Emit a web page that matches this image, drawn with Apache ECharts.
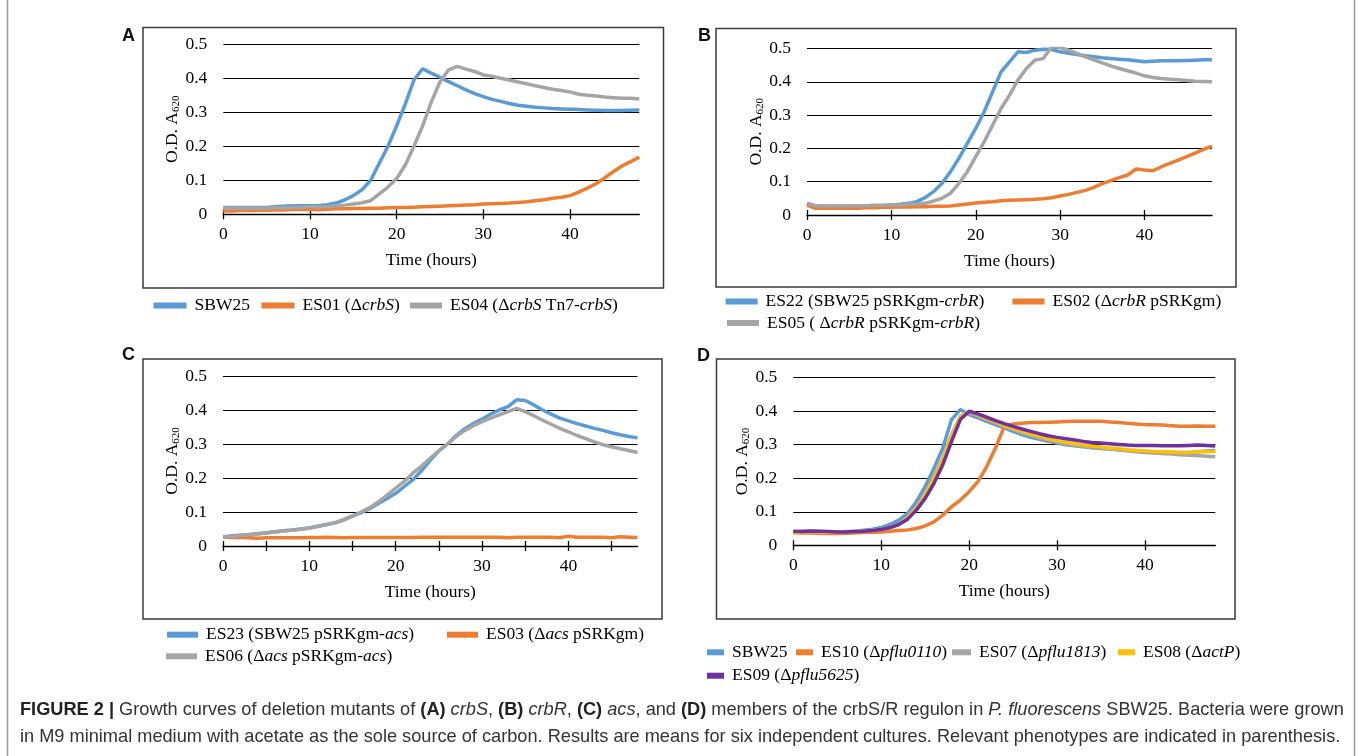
<!DOCTYPE html>
<html>
<head>
<meta charset="utf-8">
<script src="https://cdn.jsdelivr.net/npm/echarts@6/dist/echarts.min.js"></script>
<style>
html,body{margin:0;padding:0;background:#fff;}
#c{width:1358px;height:756px;}
</style>
</head>
<body>
<div id="c"></div>
<script>
// ---------- DATA ----------
const hours = [0,1,2,3,4,5,6,7,8,9,10,11,12,13,14,15,16,17,18,19,20,21,22,23,24,25,26,27,28,29,30,31,32,33,34,35,36,37,38,39,40,41,42,43,44,45,46,47,48];
const xTickLabels = [0,10,20,30,40];
const yTicks = [0,0.1,0.2,0.3,0.4,0.5];

// Panel A
const A_SBW25 = [0.02,0.02,0.02,0.02,0.02,0.02,0.022,0.024,0.025,0.025,0.025,0.026,0.028,0.033,0.042,0.055,0.072,0.1,0.15,0.2,0.26,0.325,0.395,0.428,0.415,0.403,0.39,0.378,0.366,0.355,0.346,0.338,0.332,0.326,0.321,0.318,0.315,0.313,0.311,0.31,0.309,0.308,0.307,0.306,0.305,0.305,0.305,0.306,0.307];
const A_ES01 = [0.01,0.01,0.011,0.011,0.012,0.012,0.013,0.013,0.014,0.014,0.015,0.013,0.015,0.016,0.016,0.017,0.017,0.018,0.018,0.019,0.02,0.02,0.021,0.022,0.023,0.024,0.025,0.026,0.027,0.028,0.03,0.031,0.032,0.033,0.035,0.037,0.04,0.043,0.047,0.05,0.055,0.065,0.077,0.09,0.107,0.125,0.142,0.155,0.168];
const A_ES04 = [0.018,0.018,0.018,0.018,0.018,0.018,0.019,0.019,0.02,0.021,0.022,0.022,0.023,0.025,0.027,0.03,0.034,0.04,0.06,0.08,0.105,0.145,0.2,0.26,0.33,0.39,0.425,0.435,0.427,0.42,0.41,0.406,0.4,0.395,0.389,0.384,0.378,0.373,0.368,0.364,0.36,0.353,0.35,0.348,0.345,0.343,0.341,0.341,0.339];

// Panel B
const B_ES22 = [0.035,0.027,0.026,0.026,0.026,0.026,0.027,0.027,0.028,0.028,0.03,0.032,0.035,0.04,0.052,0.07,0.095,0.13,0.17,0.215,0.26,0.31,0.37,0.43,0.46,0.49,0.488,0.495,0.498,0.497,0.49,0.486,0.482,0.478,0.475,0.472,0.47,0.468,0.466,0.463,0.46,0.462,0.463,0.463,0.463,0.464,0.465,0.466,0.466];
const B_ES02 = [0.03,0.02,0.02,0.02,0.02,0.02,0.02,0.022,0.022,0.023,0.023,0.024,0.024,0.025,0.025,0.026,0.026,0.027,0.03,0.033,0.036,0.038,0.04,0.043,0.044,0.045,0.046,0.047,0.049,0.052,0.057,0.062,0.068,0.074,0.083,0.094,0.103,0.112,0.12,0.138,0.135,0.133,0.145,0.155,0.165,0.175,0.186,0.197,0.207];
const B_ES05 = [0.035,0.028,0.027,0.027,0.027,0.027,0.028,0.028,0.029,0.029,0.03,0.03,0.032,0.033,0.035,0.042,0.05,0.065,0.095,0.13,0.175,0.22,0.27,0.32,0.36,0.405,0.44,0.465,0.47,0.505,0.503,0.495,0.485,0.475,0.466,0.457,0.448,0.44,0.433,0.426,0.418,0.413,0.41,0.408,0.406,0.404,0.402,0.401,0.4];

// Panel C
const C_ES23 = [0.025,0.03,0.032,0.034,0.036,0.039,0.042,0.045,0.047,0.05,0.053,0.058,0.063,0.068,0.077,0.088,0.098,0.11,0.125,0.14,0.155,0.175,0.195,0.222,0.252,0.28,0.3,0.325,0.345,0.36,0.373,0.388,0.4,0.41,0.43,0.428,0.415,0.4,0.388,0.376,0.368,0.36,0.353,0.346,0.34,0.333,0.327,0.322,0.318];
const C_ES03 = [0.027,0.025,0.025,0.024,0.023,0.024,0.024,0.024,0.024,0.024,0.025,0.025,0.026,0.025,0.024,0.025,0.025,0.025,0.025,0.025,0.025,0.025,0.025,0.026,0.026,0.026,0.026,0.026,0.026,0.026,0.026,0.026,0.026,0.024,0.026,0.026,0.026,0.026,0.026,0.024,0.029,0.026,0.026,0.026,0.026,0.024,0.027,0.026,0.025];
const C_ES06 = [0.028,0.029,0.031,0.033,0.035,0.038,0.041,0.044,0.046,0.049,0.053,0.058,0.063,0.069,0.078,0.089,0.1,0.113,0.13,0.15,0.17,0.19,0.215,0.235,0.258,0.28,0.3,0.322,0.34,0.354,0.366,0.376,0.386,0.395,0.405,0.395,0.383,0.37,0.358,0.346,0.336,0.325,0.316,0.306,0.298,0.292,0.286,0.281,0.275];

// Panel D
const D_SBW25 = [0.04,0.041,0.041,0.041,0.04,0.04,0.041,0.042,0.045,0.048,0.053,0.062,0.075,0.095,0.13,0.175,0.23,0.29,0.375,0.405,0.39,0.38,0.37,0.36,0.35,0.34,0.33,0.322,0.316,0.31,0.305,0.3,0.297,0.294,0.291,0.289,0.287,0.285,0.283,0.281,0.28,0.279,0.278,0.277,0.277,0.277,0.279,0.281,0.283];
const D_ES10 = [0.038,0.037,0.037,0.036,0.035,0.035,0.036,0.037,0.038,0.039,0.04,0.042,0.044,0.046,0.05,0.058,0.07,0.09,0.115,0.135,0.16,0.19,0.235,0.29,0.355,0.362,0.364,0.366,0.366,0.367,0.368,0.369,0.37,0.37,0.37,0.37,0.368,0.366,0.364,0.362,0.36,0.36,0.359,0.357,0.355,0.355,0.356,0.355,0.355];
const D_ES07 = [0.04,0.041,0.041,0.041,0.04,0.04,0.04,0.041,0.042,0.044,0.047,0.053,0.063,0.085,0.115,0.155,0.205,0.26,0.33,0.385,0.395,0.385,0.375,0.365,0.355,0.345,0.336,0.328,0.32,0.314,0.308,0.303,0.298,0.295,0.292,0.29,0.288,0.285,0.282,0.279,0.277,0.275,0.274,0.272,0.27,0.269,0.268,0.266,0.264];
const D_ES08 = [0.036,0.04,0.041,0.04,0.039,0.039,0.04,0.041,0.042,0.044,0.047,0.053,0.063,0.082,0.11,0.15,0.2,0.255,0.325,0.385,0.4,0.39,0.378,0.368,0.358,0.349,0.34,0.332,0.325,0.318,0.312,0.307,0.303,0.299,0.296,0.293,0.29,0.288,0.285,0.283,0.281,0.28,0.279,0.278,0.276,0.277,0.279,0.28,0.28];
const D_ES09 = [0.042,0.041,0.043,0.042,0.041,0.04,0.04,0.041,0.042,0.044,0.047,0.053,0.062,0.078,0.105,0.14,0.185,0.24,0.31,0.375,0.4,0.392,0.382,0.372,0.363,0.355,0.347,0.34,0.333,0.327,0.322,0.318,0.314,0.31,0.307,0.305,0.303,0.301,0.299,0.298,0.298,0.298,0.297,0.297,0.297,0.298,0.299,0.298,0.296];

// ---------- STYLE ----------
const SERIF = 'Liberation Serif, Times New Roman, serif';
const SANS = 'Liberation Sans, Arial, sans-serif';
const FS = 17.5;
const COL = {blue:'#5B9BD5', orange:'#ED7D31', gray:'#A5A5A5', yellow:'#FFC000', purple:'#7030A0'};

const grids = [
  {left:223.3, top:44.3, width:416, height:170},
  {left:807, top:48.5, width:405, height:166.5},
  {left:223, top:376, width:414.5, height:170},
  {left:793.3, top:377.7, width:422, height:167.6}
];
const tickSets = [[0,10,20,30,40],[0,10,20,30,40],[0,5,10,15,20,25,30,35,40,45],[0,10,20,30,40]];

const xAxes = [], yAxes = [];
grids.forEach((g,i)=>{
  xAxes.push({
    gridIndex:i, type:'value', min:0, max:48,
    axisLine:{show:true, onZero:false, lineStyle:{color:'#000', width:1.3}},
    axisTick:{show:true, customValues:tickSets[i], length:5, lineStyle:{color:'#000', width:1.3}},
    axisLabel:{customValues:xTickLabels, margin:11, fontFamily:SERIF, fontSize:FS, color:'#000'},
    splitLine:{show:false},
    name:'Time (hours)', nameLocation:'middle', nameGap:37,
    nameTextStyle:{fontFamily:SERIF, fontSize:FS, color:'#000'}
  });
  xAxes.push({
    gridIndex:i, type:'value', min:0, max:48, position:'bottom',
    axisLine:{show:false},
    axisTick:{show:true, inside:true, customValues:tickSets[i], length:5, lineStyle:{color:'#000', width:1.3}},
    axisLabel:{show:false}, splitLine:{show:false}
  });
  yAxes.push({
    gridIndex:i, type:'value', min:0, max:0.5, interval:0.1,
    axisLine:{show:false}, axisTick:{show:false},
    axisLabel:{margin:16, fontFamily:SERIF, fontSize:FS, color:'#000'},
    splitLine:{show:true, lineStyle:{color:'#000', width:1}},
    name:'{a|O.D. A}{s|620}', nameLocation:'middle', nameGap:40, nameRotate:90,
    nameTextStyle:{rich:{
      a:{fontFamily:SERIF, fontSize:FS, color:'#000', lineHeight:20},
      s:{fontFamily:SERIF, fontSize:11, color:'#000', padding:[7,0,0,0], lineHeight:20}
    }}
  });
});

function pairs(arr){ return arr.map((v,k)=>[hours[k], v]); }
function line(name, data, color, gi){
  return {name, type:'line', xAxisIndex:gi*2, yAxisIndex:gi, data:pairs(data),
    showSymbol:false, symbol:'none', lineStyle:{width:3.5, color}, itemStyle:{color},
    emphasis:{disabled:true}, animation:false, silent:true};
}

const NA = {A1:'SBW25', A2:'ES01 (ΔcrbS)', A3:'ES04 (ΔcrbS Tn7-crbS)',
  B1:'ES22 (SBW25 pSRKgm-crbR)', B2:'ES02 (ΔcrbR pSRKgm)', B3:'ES05 ( ΔcrbR pSRKgm-crbR)',
  C1:'ES23 (SBW25 pSRKgm-acs)', C2:'ES03 (Δacs pSRKgm)', C3:'ES06 (Δacs pSRKgm-acs)',
  D1:'SBW25 ', D2:'ES10 (Δpflu0110)', D3:'ES07 (Δpflu1813)', D4:'ES08 (ΔactP)', D5:'ES09 (Δpflu5625)'};
const RICH = {
  'SBW25':'{n|SBW25}',
  'ES01 (ΔcrbS)':'{n|ES01 (Δ}{i|crbS}{n|)}',
  'ES04 (ΔcrbS Tn7-crbS)':'{n|ES04 (Δ}{i|crbS}{n| Tn7-}{i|crbS}{n|)}',
  'ES22 (SBW25 pSRKgm-crbR)':'{n|ES22 (SBW25 pSRKgm-}{i|crbR}{n|)}',
  'ES02 (ΔcrbR pSRKgm)':'{n|ES02 (Δ}{i|crbR}{n| pSRKgm)}',
  'ES05 ( ΔcrbR pSRKgm-crbR)':'{n|ES05 ( Δ}{i|crbR}{n| pSRKgm-}{i|crbR}{n|)}',
  'ES23 (SBW25 pSRKgm-acs)':'{n|ES23 (SBW25 pSRKgm-}{i|acs}{n|)}',
  'ES03 (Δacs pSRKgm)':'{n|ES03 (Δ}{i|acs}{n| pSRKgm)}',
  'ES06 (Δacs pSRKgm-acs)':'{n|ES06 (Δ}{i|acs}{n| pSRKgm-}{i|acs}{n|)}',
  'SBW25 ':'{n|SBW25}',
  'ES10 (Δpflu0110)':'{n|ES10 (Δ}{i|pflu0110}{n|)}',
  'ES07 (Δpflu1813)':'{n|ES07 (Δ}{i|pflu1813}{n|)}',
  'ES08 (ΔactP)':'{n|ES08 (Δ}{i|actP}{n|)}',
  'ES09 (Δpflu5625)':'{n|ES09 (Δ}{i|pflu5625}{n|)}'
};

const series = [
  line(NA.A1, A_SBW25, COL.blue, 0), line(NA.A2, A_ES01, COL.orange, 0), line(NA.A3, A_ES04, COL.gray, 0),
  line(NA.B1, B_ES22, COL.blue, 1), line(NA.B2, B_ES02, COL.orange, 1), line(NA.B3, B_ES05, COL.gray, 1),
  line(NA.C1, C_ES23, COL.blue, 2), line(NA.C2, C_ES03, COL.orange, 2), line(NA.C3, C_ES06, COL.gray, 2),
  line(NA.D1, D_SBW25, COL.blue, 3), line(NA.D2, D_ES10, COL.orange, 3), line(NA.D3, D_ES07, COL.gray, 3),
  line(NA.D4, D_ES08, COL.yellow, 3), line(NA.D5, D_ES09, COL.purple, 3)
];

function leg(name, x, cy, w){
  return {data:[name], left:x, top:cy-10, itemWidth:w, itemHeight:6, icon:'rect', padding:0,
    selectedMode:false, formatter:(n)=>RICH[n],
    textStyle:{padding:[0,0,0,3], rich:{
      n:{fontFamily:SERIF, fontSize:FS, color:'#000', lineHeight:20},
      i:{fontFamily:SERIF, fontSize:FS, color:'#000', fontStyle:'italic', lineHeight:20}
    }}};
}
const legends = [
  leg(NA.A1, 153.5, 306.5, 33), leg(NA.A2, 261.5, 306.5, 33), leg(NA.A3, 410, 306.5, 32),
  leg(NA.B1, 725.6, 302.5, 32), leg(NA.B2, 1012.5, 302.5, 32), leg(NA.B3, 727, 324, 32),
  leg(NA.C1, 167, 635.7, 31), leg(NA.C2, 447, 635.7, 31), leg(NA.C3, 166, 657.3, 31),
  leg(NA.D1, 707, 653.3, 17), leg(NA.D2, 796, 653.3, 17), leg(NA.D3, 952, 653.3, 19), leg(NA.D4, 1118, 653.3, 17),
  leg(NA.D5, 707, 676.7, 17)
];

const BOX = {stroke:'#3a3a3a', lineWidth:1.5, fill:'none'};
function box(x1,y1,x2,y2){ return {type:'rect', shape:{x:x1,y:y1,width:x2-x1,height:y2-y1}, style:BOX, silent:true, z:-1}; }
function letter(t,x,y){ return {type:'text', x, y, style:{text:t, font:'bold 18px '+SANS, fill:'#111', textVerticalAlign:'middle'}, silent:true}; }

const CFS = 18.2;
const capRich = {
  b:{fontFamily:SANS, fontWeight:'bold', fontSize:CFS, fill:'#222'},
  r:{fontFamily:SANS, fontSize:CFS, fill:'#333'},
  i:{fontFamily:SANS, fontStyle:'italic', fontSize:CFS, fill:'#333'}
};
const cap1 = '{b|FIGURE 2 |}{r| Growth curves of deletion mutants of }{b|(A)}{r| }{i|crbS}{r|, }{b|(B)}{r| }{i|crbR}{r|, }{b|(C)}{r| }{i|acs}{r|, and }{b|(D)}{r| members of the crbS/R regulon in }{i|P. fluorescens}{r| SBW25. Bacteria were grown}';
const cap2 = '{r|in M9 minimal medium with acetate as the sole source of carbon. Results are means for six independent cultures. Relevant phenotypes are indicated in parenthesis.}';

const graphic = [
  box(143,27.5,663.5,288), box(716,28.5,1236,287), box(143,359,662,619), box(716.5,359,1235,619),
  letter('A',122,36), letter('B',698,36), letter('C',122,355), letter('D',697,356),
  {type:'line', shape:{x1:7.5,y1:0,x2:7.5,y2:756}, style:{stroke:'#999', lineWidth:1.5}, silent:true},
  {type:'line', shape:{x1:1354.5,y1:0,x2:1354.5,y2:756}, style:{stroke:'#999', lineWidth:1.5}, silent:true},
  {type:'text', x:20, y:710, style:{text:cap1, rich:capRich, textVerticalAlign:'middle'}, silent:true},
  {type:'text', x:20, y:737, style:{text:cap2, rich:capRich, textVerticalAlign:'middle'}, silent:true}
];

const chart = echarts.init(document.getElementById('c'), null, {renderer:'canvas'});
chart.setOption({
  animation:false,
  backgroundColor:'#fff',
  grid:grids,
  xAxis:xAxes,
  yAxis:yAxes,
  legend:legends,
  series:series,
  graphic:graphic
});
</script>
</body>
</html>
